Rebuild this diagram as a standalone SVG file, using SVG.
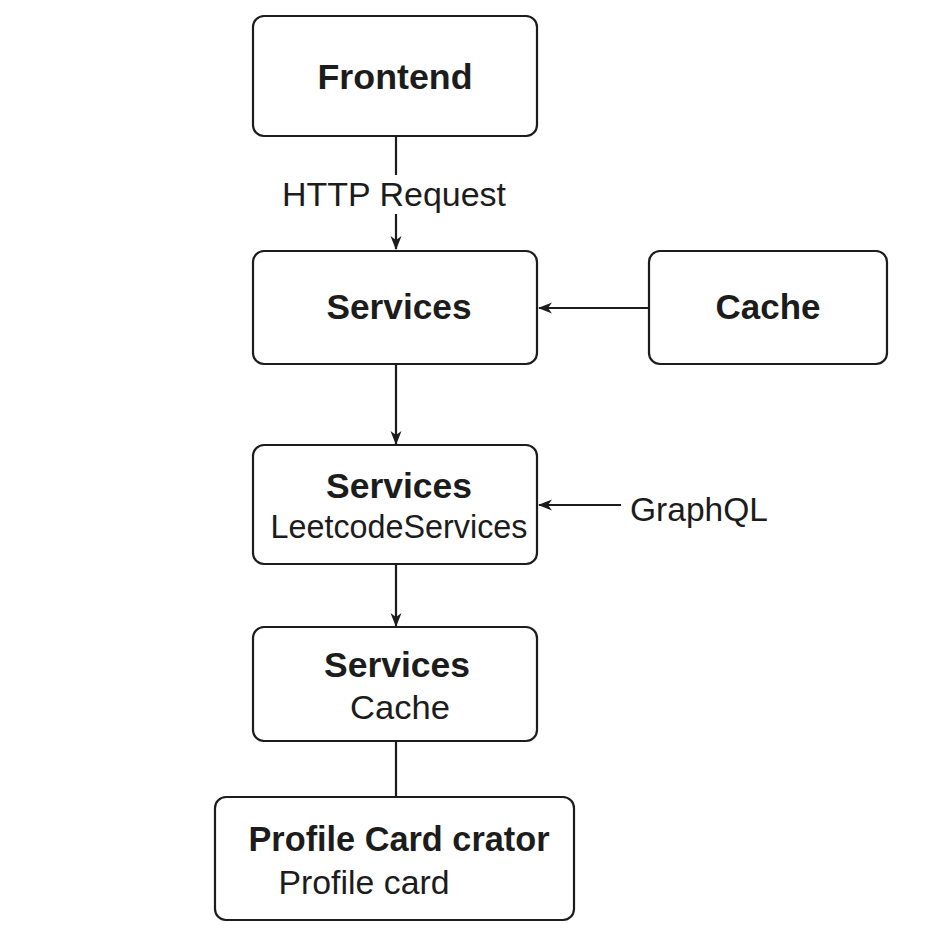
<svg xmlns="http://www.w3.org/2000/svg" width="926" height="952" viewBox="0 0 926 952">
<defs>
<style>
.box{fill:#fff;stroke:#1c1c1c;stroke-width:2.2}
.b{font-family:"Liberation Sans",Arial,sans-serif;font-weight:bold;font-size:35px;fill:#1c1c1c;text-anchor:middle}
.r{font-family:"Liberation Sans",Arial,sans-serif;font-size:33px;fill:#1c1c1c;text-anchor:middle}
.c{fill:none;stroke:#1c1c1c;stroke-width:2.2}
</style>
<marker id="ah" viewBox="0 0 14 12" refX="13" refY="6" markerWidth="14" markerHeight="12" markerUnits="userSpaceOnUse" orient="auto">
<path d="M0,0.5 L14,6 L0,11.5 L4,6 Z" fill="#1c1c1c"/>
</marker>
</defs>
<rect width="926" height="952" fill="#fff"/>
<g id="connectors">
<line class="c" x1="396" y1="136" x2="396" y2="175"/>
<line class="c" x1="396" y1="214" x2="396" y2="249" marker-end="url(#ah)"/>
<text class="r" x="394" y="206" textLength="224" lengthAdjust="spacingAndGlyphs">HTTP Request</text>
<line class="c" x1="649" y1="308" x2="539" y2="308" marker-end="url(#ah)"/>
<line class="c" x1="396" y1="364" x2="396" y2="444" marker-end="url(#ah)"/>
<line class="c" x1="621" y1="505" x2="539" y2="505" marker-end="url(#ah)"/>
<text class="r" x="699" y="521" textLength="138" lengthAdjust="spacingAndGlyphs">GraphQL</text>
<line class="c" x1="396" y1="564" x2="396" y2="626" marker-end="url(#ah)"/>
<line class="c" x1="396" y1="741" x2="396" y2="797"/>
</g>
<g id="frontend">
<rect class="box" x="253" y="16" width="284" height="120" rx="11"/>
<text class="b" x="395" y="89" textLength="155" lengthAdjust="spacingAndGlyphs">Frontend</text>
</g>
<g id="services1">
<rect class="box" x="253" y="251" width="284" height="113" rx="11"/>
<text class="b" x="399" y="319" textLength="145" lengthAdjust="spacingAndGlyphs">Services</text>
</g>
<g id="cache">
<rect class="box" x="649" y="251" width="238" height="113" rx="11"/>
<text class="b" x="768" y="319" textLength="105" lengthAdjust="spacingAndGlyphs">Cache</text>
</g>
<g id="services2">
<rect class="box" x="253" y="445" width="284" height="119" rx="11"/>
<text class="b" x="399" y="498" textLength="146" lengthAdjust="spacingAndGlyphs">Services</text>
<text class="r" x="399" y="538" textLength="257" lengthAdjust="spacingAndGlyphs">LeetcodeServices</text>
</g>
<g id="services3">
<rect class="box" x="253" y="627" width="284" height="114" rx="11"/>
<text class="b" x="397" y="677" textLength="146" lengthAdjust="spacingAndGlyphs">Services</text>
<text class="r" x="400" y="719" textLength="100" lengthAdjust="spacingAndGlyphs">Cache</text>
</g>
<g id="profile">
<rect class="box" x="215" y="797" width="359" height="123" rx="11"/>
<text class="b" x="399" y="851" textLength="301" lengthAdjust="spacingAndGlyphs">Profile Card crator</text>
<text class="r" x="364" y="894" textLength="171" lengthAdjust="spacingAndGlyphs">Profile card</text>
</g>
</svg>
